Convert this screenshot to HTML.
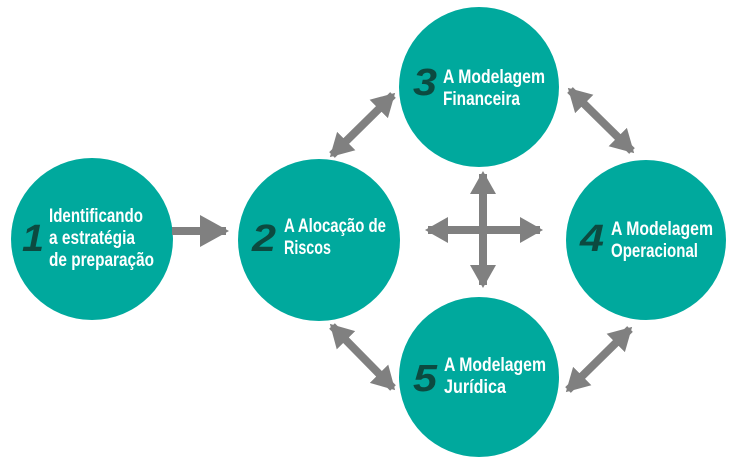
<!DOCTYPE html>
<html><head><meta charset="utf-8"><style>
html,body{margin:0;padding:0;background:#fff;}
body{width:751px;height:463px;overflow:hidden;}
svg text{font-family:"Liberation Sans",sans-serif;font-weight:bold;}
.t{fill:#fff;font-size:19px;}
.n{fill:#0c4a40;font-size:38px;font-style:italic;}
</style></head><body>
<svg width="751" height="463" viewBox="0 0 751 463" xmlns="http://www.w3.org/2000/svg">
<defs>
<marker id="h" markerUnits="userSpaceOnUse" markerWidth="30" markerHeight="30" refX="20" refY="15" orient="auto-start-reverse">
<path d="M0,2 L23,15 L0,28 Z" fill="#808080"/>
</marker>
<marker id="b" markerUnits="userSpaceOnUse" markerWidth="34" markerHeight="36" refX="26" refY="18" orient="auto">
<path d="M0,2 L29,18 L0,34 Z" fill="#808080"/>
</marker>
</defs>
<g fill="#00a99d">
<circle cx="92" cy="239" r="81"/>
<circle cx="319" cy="240" r="81"/>
<circle cx="479" cy="87" r="80"/>
<circle cx="646" cy="240" r="80"/>
<circle cx="479" cy="377" r="80"/>
</g>
<g stroke="#808080" stroke-width="8" fill="none">
<line x1="172" y1="231" x2="226" y2="231" marker-end="url(#b)"/>
<line x1="428" y1="230" x2="540" y2="230" marker-start="url(#h)" marker-end="url(#h)"/>
<line x1="483" y1="174" x2="483" y2="285" marker-start="url(#h)" marker-end="url(#h)"/>
<line x1="332" y1="155" x2="393" y2="95" marker-start="url(#h)" marker-end="url(#h)"/>
<line x1="570" y1="90" x2="632" y2="151" marker-start="url(#h)" marker-end="url(#h)"/>
<line x1="332" y1="326" x2="393" y2="388" marker-start="url(#h)" marker-end="url(#h)"/>
<line x1="630" y1="329" x2="568" y2="390" marker-start="url(#h)" marker-end="url(#h)"/>
</g>
<text class="n" x="22" y="251" textLength="22" lengthAdjust="spacingAndGlyphs">1</text>
<text class="t" x="49" y="222" textLength="94" lengthAdjust="spacingAndGlyphs">Identificando</text>
<text class="t" x="49" y="244" textLength="86" lengthAdjust="spacingAndGlyphs">a estratégia</text>
<text class="t" x="49" y="266" textLength="105" lengthAdjust="spacingAndGlyphs">de preparação</text>
<text class="n" x="252" y="251" textLength="24" lengthAdjust="spacingAndGlyphs">2</text>
<text class="t" x="284" y="232" textLength="102" lengthAdjust="spacingAndGlyphs">A Alocação de</text>
<text class="t" x="284" y="254" textLength="47" lengthAdjust="spacingAndGlyphs">Riscos</text>
<text class="n" x="413" y="95" textLength="24" lengthAdjust="spacingAndGlyphs">3</text>
<text class="t" x="443" y="83" textLength="102" lengthAdjust="spacingAndGlyphs">A Modelagem</text>
<text class="t" x="443" y="105" textLength="77" lengthAdjust="spacingAndGlyphs">Financeira</text>
<text class="n" x="580" y="251" textLength="24" lengthAdjust="spacingAndGlyphs">4</text>
<text class="t" x="611" y="235" textLength="102" lengthAdjust="spacingAndGlyphs">A Modelagem</text>
<text class="t" x="611" y="257" textLength="87" lengthAdjust="spacingAndGlyphs">Operacional</text>
<text class="n" x="413" y="391" textLength="24" lengthAdjust="spacingAndGlyphs">5</text>
<text class="t" x="444" y="371" textLength="102" lengthAdjust="spacingAndGlyphs">A Modelagem</text>
<text class="t" x="444" y="393" textLength="62" lengthAdjust="spacingAndGlyphs">Jurídica</text>
</svg>
</body></html>
